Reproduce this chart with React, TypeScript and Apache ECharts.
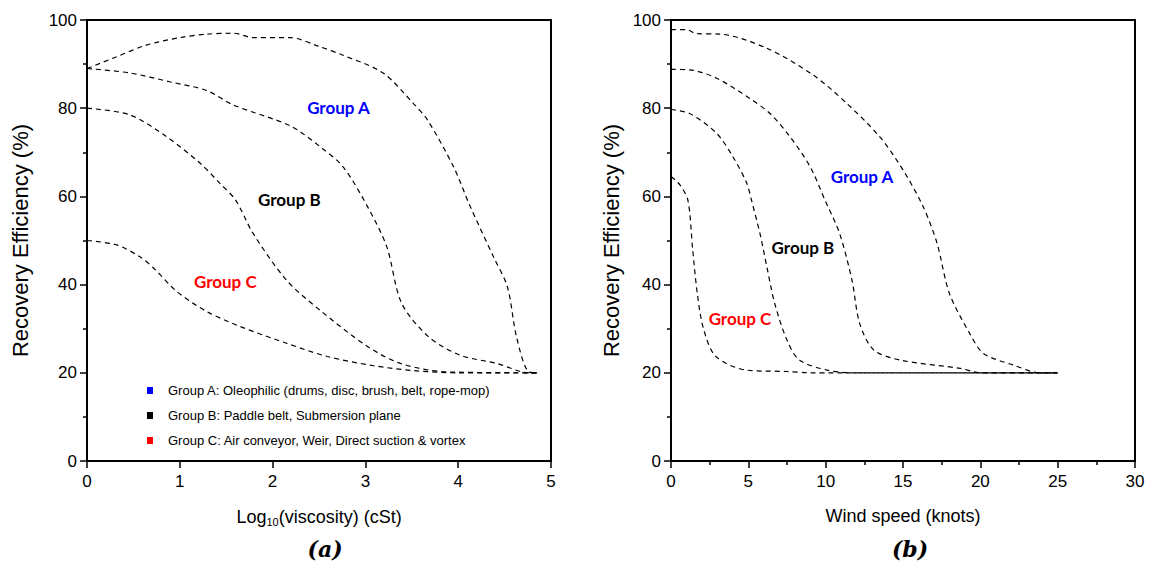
import React, { useEffect, useRef } from "react";
import * as echarts from "echarts";

// ---- Panel (a): recovery efficiency vs log10(viscosity) ----
const viscCurveTop: [number, number][] = [
  [0, 89], [0.3, 91.5], [0.64, 94.3], [1.0, 96], [1.29, 96.8], [1.58, 97], [1.79, 96], [2.19, 96],
  [2.5, 94], [2.76, 92], [3.19, 88], [3.52, 81], [3.67, 77.3], [3.95, 66.7], [4.13, 57.7],
  [4.38, 46.3], [4.53, 39.5], [4.63, 28], [4.76, 20.2], [4.85, 20],
];
const viscCurveSecond: [number, number][] = [
  [0, 89], [0.46, 88], [0.89, 86], [1.29, 84], [1.58, 80.7], [2.19, 76], [2.51, 71.3], [2.76, 66.7],
  [3.03, 57.4], [3.23, 48.6], [3.39, 35.8], [3.68, 28.2], [4.02, 24], [4.42, 22.1], [4.76, 20], [4.85, 20],
];
const viscCurveThird: [number, number][] = [
  [0, 80], [0.46, 78.5], [0.86, 73.5], [1.22, 67.5], [1.43, 63], [1.6, 59.2], [1.79, 51.6], [2.15, 41],
  [2.51, 34.2], [3.02, 26], [3.38, 22.1], [3.88, 20.2], [4.85, 20],
];
const viscCurveFourth: [number, number][] = [
  [0, 50], [0.32, 49], [0.57, 46.3], [0.72, 43.7], [0.97, 38.4], [1.29, 33.9], [1.65, 30.5], [2.15, 26.7],
  [2.59, 23.7], [3.09, 21.6], [3.52, 20.5], [4.0, 20], [4.85, 20],
];

// ---- Panel (b): recovery efficiency vs wind speed ----
const windCurveTop: [number, number][] = [
  [0, 97.8], [1, 97.8], [1.66, 96.9], [3.17, 96.8], [6.19, 93.6], [9.2, 87.5], [11.36, 81.1], [13.5, 73.5],
  [15.0, 66], [16.3, 57.7], [17.2, 49.4], [18.0, 38], [19.3, 29], [20.2, 24.4], [22.1, 21.8], [23.85, 20], [25, 20],
];
const windCurveSecond: [number, number][] = [
  [0, 88.8], [1.2, 88.7], [2.95, 86.8], [5.1, 82.2], [6.4, 78.8], [7.7, 73.5], [9.0, 66.7], [9.95, 59.2],
  [10.9, 51.6], [11.7, 41], [12.2, 31.2], [13.1, 25.2], [14.8, 22.9], [18.7, 21], [20, 20], [25, 20],
];
const windCurveThird: [number, number][] = [
  [0, 79.7], [1.2, 78.8], [2.95, 74.3], [4.0, 69], [4.9, 63], [5.2, 59.2], [5.75, 51.6], [6.2, 44],
  [6.7, 35.8], [7.5, 27.4], [8.3, 22.9], [10.1, 20.6], [11.8, 20], [25, 20],
];
const windCurveFourth: [number, number][] = [
  [0, 64.5], [0.6, 62.5], [1.1, 59], [1.4, 48], [1.7, 38], [2.1, 30], [2.9, 23.7], [4.9, 20.6],
  [7.5, 20.3], [9, 20], [25, 20],
];

// ---- Group annotations [x, y] in data units ----
const groupNames = ["Group A", "Group B", "Group C"];
const groupColors = ["#0000ff", "#000000", "#ff0000"];
const viscLabelPos: [number, number][] = [[2.71, 80.2], [2.18, 59.4], [1.49, 40.6]];
const windLabelPos: [number, number][] = [[12.35, 64.4], [8.53, 48.3], [4.46, 32.4]];

const legendNames = [
  "Group A: Oleophilic (drums, disc, brush, belt, rope-mop)",
  "Group B: Paddle belt, Submersion plane",
  "Group C: Air conveyor, Weir, Direct suction & vortex",
];

const viscTicks = { min: 0, max: 5, interval: 1 };
const windTicks = { min: 0, max: 30, interval: 5 };
const effTicks = { min: 0, max: 100, interval: 20 };

const FONT = '"Liberation Sans", Arial, sans-serif';

export default function App() {
  const ref = useRef<HTMLDivElement>(null);
  useEffect(() => {
    if (!ref.current) return;
    const chart = echarts.init(ref.current, undefined, { renderer: "svg" });

    const dashed = (data: [number, number][], idx: number) => ({
      type: "line",
      xAxisIndex: idx,
      yAxisIndex: idx,
      data,
      smooth: 0.3,
      showSymbol: false,
      symbol: "none",
      silent: true,
      lineStyle: { color: "#000", width: 1.2, type: [5, 4] },
    });

    const labels = (pos: [number, number][], idx: number) => ({
      type: "scatter",
      xAxisIndex: idx,
      yAxisIndex: idx,
      symbolSize: 0,
      silent: true,
      itemStyle: { opacity: 1 },
      data: pos.map((p, i) => ({
        value: p,
        label: {
          show: true,
          position: "inside",
          formatter: groupNames[i],
          color: groupColors[i],
          opacity: 1,
          fontFamily: "Lato, sans-serif",
          fontWeight: "bold",
          fontSize: 17,
        },
      })),
    });

    const xAxisBase = (t: any, name: any, idx: number, minor: boolean) => ({
      type: "value",
      gridIndex: idx,
      min: t.min,
      max: t.max,
      interval: t.interval,
      name,
      nameLocation: "middle",
      nameGap: 46,
      nameTextStyle: {
        color: "#000",
        fontFamily: FONT,
        fontSize: 18,
        rich: {
          sub: { fontSize: 11, fontFamily: FONT, color: "#000", padding: [9, 0, 0, 0] },
          base: { fontSize: 18, fontFamily: FONT, color: "#000" },
        },
      },
      splitLine: { show: false },
      axisLine: { show: true, onZero: false, lineStyle: { color: "#000", width: 2 } },
      axisTick: { show: true, inside: false, length: 7, lineStyle: { color: "#000", width: 1.5 } },
      minorTick: { show: minor, splitNumber: 2, length: 4, lineStyle: { color: "#000", width: 1.5 } },
      axisLabel: { color: "#000", fontFamily: FONT, fontSize: 17, margin: 12 },
    });

    const yAxisBase = (idx: number, gap: number) => ({
      type: "value",
      gridIndex: idx,
      min: effTicks.min,
      max: effTicks.max,
      interval: effTicks.interval,
      name: "Recovery Efficiency (%)",
      nameLocation: "middle",
      nameGap: gap,
      nameTextStyle: { color: "#000", fontFamily: FONT, fontSize: 22 },
      splitLine: { show: false },
      axisLine: { show: true, onZero: false, lineStyle: { color: "#000", width: 2 } },
      axisTick: { show: true, inside: false, length: 7, lineStyle: { color: "#000", width: 1.5 } },
      minorTick: { show: true, splitNumber: 2, length: 4, lineStyle: { color: "#000", width: 1.5 } },
      axisLabel: { color: "#000", fontFamily: FONT, fontSize: 17, margin: 10 },
    });

    const option: any = {
      animation: false,
      backgroundColor: "#fff",
      grid: [
        { left: 87, top: 20, width: 464, height: 441, show: true, borderColor: "#000", borderWidth: 2, containLabel: false },
        { left: 671, top: 20, width: 464, height: 441, show: true, borderColor: "#000", borderWidth: 2, containLabel: false },
      ],
      xAxis: [
        xAxisBase(viscTicks, "{base|Log}{sub|10}{base|(viscosity) (cSt)}", 0, false),
        xAxisBase(windTicks, "Wind speed (knots)", 1, true),
      ],
      yAxis: [yAxisBase(0, 56), yAxisBase(1, 49)],
      legend: {
        left: 142,
        top: 378,
        orient: "vertical",
        itemWidth: 6,
        itemHeight: 7,
        itemGap: 10,
        selectedMode: false,
        textStyle: { color: "#000", fontFamily: FONT, fontSize: 13, lineHeight: 15, padding: [0, 0, 0, 10] },
        data: legendNames.map((n) => ({ name: n, icon: "rect" })),
      },
      series: [
        dashed(viscCurveTop, 0),
        dashed(viscCurveSecond, 0),
        dashed(viscCurveThird, 0),
        dashed(viscCurveFourth, 0),
        dashed(windCurveTop, 1),
        dashed(windCurveSecond, 1),
        dashed(windCurveThird, 1),
        dashed(windCurveFourth, 1),
        labels(viscLabelPos, 0),
        labels(windLabelPos, 1),
        ...legendNames.map((n, i) => ({
          type: "line",
          name: n,
          xAxisIndex: 0,
          yAxisIndex: 0,
          data: [],
          itemStyle: { color: groupColors[i] },
          lineStyle: { color: groupColors[i] },
        })),
      ],
      graphic: [
        {
          type: "text",
          x: 325,
          y: 549,
          style: {
            text: "(a)",
            font: 'italic bold 22px "DejaVu Serif", serif',
            fill: "#000",
            align: "center",
            verticalAlign: "middle",
          },
        },
        {
          type: "text",
          x: 910,
          y: 549,
          style: {
            text: "(b)",
            font: 'italic bold 22px "DejaVu Serif", serif',
            fill: "#000",
            align: "center",
            verticalAlign: "middle",
          },
        },
      ],
    };
    chart.setOption(option);
    return () => chart.dispose();
  }, []);
  return (
    <div
      ref={ref}
      style={{ position: "absolute", left: 0, top: 0, width: 1149, height: 563, background: "#fff" }}
    />
  );
}
